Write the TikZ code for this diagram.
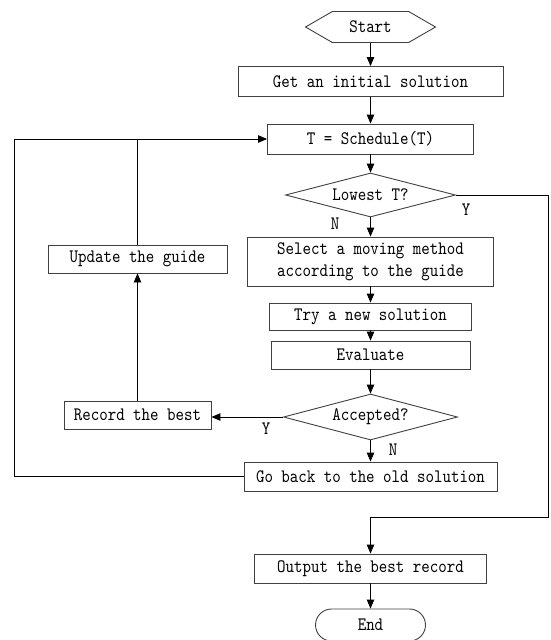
\documentclass[tikz,border=0pt]{standalone}
\usepackage{fontspec}
\setmainfont{lmmono10-regular.otf}[FakeStretch=0.85]
\usetikzlibrary{shapes.geometric,shapes.misc,shapes.symbols,arrows.meta}

\begin{document}
\begin{tikzpicture}[x=1pt,y=-1pt,
  font=\fontsize{19}{22}\selectfont,
  box/.style={draw=black!75,line width=.9pt,inner sep=0pt,minimum height=28},
  cond/.style={box,diamond,aspect=3.8},
  arr/.style={line width=.9pt,-{Triangle[length=9pt,width=7.5pt]}},
  line/.style={line width=.9pt}]
\useasboundingbox (0,0) rectangle (550,640);
% main column
\node (start) at (370.5,27) [box,signal,signal to=east and west,signal pointer angle=60,minimum width=130,minimum height=31] {Start};
\node (init) at (370.5,81.5) [box,minimum width=265,minimum height=30] {Get an initial solution};
\node (sched) at (370.5,139) [box,minimum width=206,minimum height=30] {T = Schedule(T)};
\node (lowest) at (370.5,195) [cond,minimum width=170,minimum height=44] {Lowest T?};
\node (select) at (370.5,261.5) [box,align=center,minimum width=246,minimum height=49] {Select a moving method\\according to the guide};
\node (try) at (370.5,316.5) [box,minimum width=202,minimum height=27] {Try a new solution};
\node (eval) at (370.5,355) [box,minimum width=199] {Evaluate};
\node (accept) at (370.5,417) [cond,minimum width=174,minimum height=46] {Accepted?};
\node (back) at (370.5,476.5) [box,minimum width=253,minimum height=29] {Go back to the old solution};
\node (output) at (370.5,568.5) [box,minimum width=232,minimum height=29] {Output the best record};
\node (end) at (370.5,625) [box,rounded rectangle,minimum width=110,minimum height=32] {End};
% side column
\node (update) at (137.5,259) [box,minimum width=179] {Update the guide};
\node (record) at (137.5,415) [box,minimum width=147] {Record the best};
% branch labels
\node (ylow) at (466,210) {Y};
\node (nlow) at (335,224) {N};
\node (yacc) at (266,429) {Y};
\node (nacc) at (393,450) {N};
\coordinate (rt) at (548,517);
\coordinate (lp) at (14,139);

\draw[arr] (start) -- (init);
\draw[arr] (init) -- (sched);
\draw[arr] (sched) -- (lowest);
\draw[arr] (lowest) -- (select);
\draw[arr] (select) -- (try);
\draw[arr] (try) -- (eval);
\draw[arr] (eval) -- (accept);
\draw[arr] (accept) -- (back);
\draw[arr] (output) -- (end);
\draw[arr] (accept.west) -- (accept.west -| record.east);
\draw[arr] (record) -- (update);
\draw[line] (update.north) -- (update.north |- sched.west);
\draw[arr] (back.west) -| (lp) -- (sched.west);
\draw[arr] (lowest.east) -| (rt) -| (output.north);
\end{tikzpicture}
\end{document}
